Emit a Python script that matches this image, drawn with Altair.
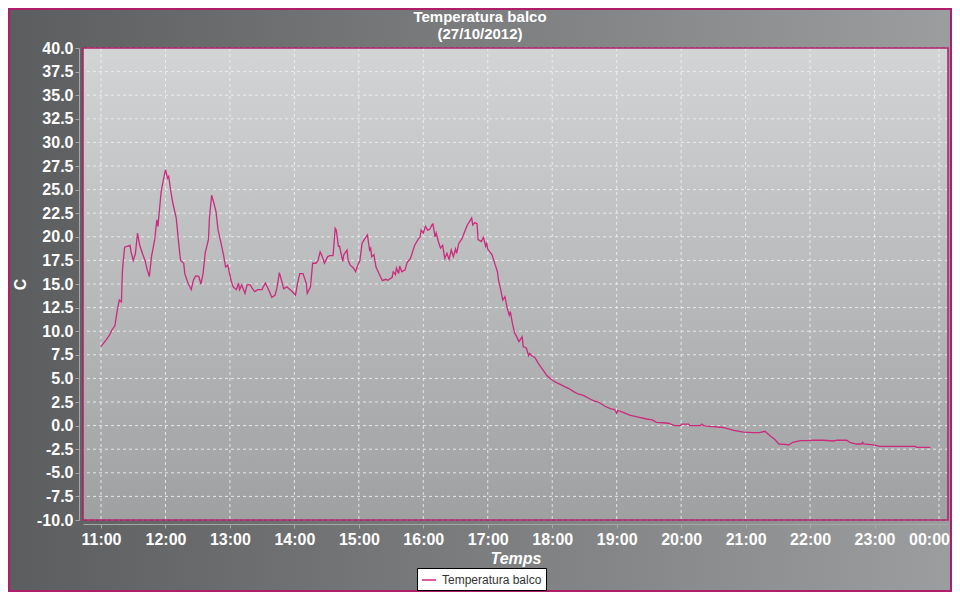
import altair as alt
import pandas as pd

# ---- data ----
times = [
    "11:00", "11:05", "11:08", "11:10", "11:13", "11:15", "11:17", "11:19", "11:20", "11:22",
    "11:25", "11:27", "11:28", "11:30", "11:32", "11:34", "11:36", "11:39", "11:41", "11:43",
    "11:45", "11:47", "11:50", "11:52", "11:53", "11:56", "11:58", "12:00", "12:02", "12:03",
    "12:05", "12:07", "12:10", "12:12", "12:14", "12:17", "12:18", "12:21", "12:24", "12:26",
    "12:28", "12:31", "12:33", "12:35", "12:37", "12:40", "12:41", "12:43", "12:45", "12:47",
    "12:49", "12:51", "12:54", "12:56", "12:58", "13:01", "13:03", "13:06", "13:08", "13:09",
    "13:11", "13:14", "13:16", "13:19", "13:21", "13:23", "13:26", "13:30", "13:31", "13:33",
    "13:36", "13:39", "13:42", "13:44", "13:46", "13:48", "13:50", "13:53", "13:55", "13:58",
    "14:01", "14:03", "14:05", "14:08", "14:11", "14:12", "14:15", "14:17", "14:20", "14:22",
    "14:24", "14:26", "14:28", "14:31", "14:33", "14:36", "14:38", "14:39", "14:41", "14:42",
    "14:45", "14:46", "14:49", "14:50", "14:52", "14:55", "14:57", "14:59", "15:01", "15:03",
    "15:05", "15:08", "15:10", "15:11", "15:12", "15:14", "15:16", "15:18", "15:20", "15:22",
    "15:25", "15:27", "15:31", "15:32", "15:34", "15:35", "15:37", "15:38", "15:40", "15:43",
    "15:45", "15:48", "15:50", "15:52", "15:55", "15:57", "15:58", "16:00", "16:02", "16:04",
    "16:06", "16:08", "16:09", "16:11", "16:12", "16:14", "16:16", "16:18", "16:20", "16:22",
    "16:24", "16:26", "16:28", "16:30", "16:31", "16:33", "16:36", "16:38", "16:39", "16:41",
    "16:43", "16:45", "16:46", "16:48", "16:50", "16:51", "16:54", "16:56", "16:58", "16:59",
    "17:00", "17:04", "17:07", "17:09", "17:10", "17:12", "17:14", "17:16", "17:18", "17:20",
    "17:21", "17:23", "17:25", "17:27", "17:29", "17:32", "17:33", "17:36", "17:38", "17:39",
    "17:41", "17:44", "17:47", "17:52", "17:55", "17:59", "18:03", "18:07", "18:12", "18:15",
    "18:20", "18:24", "18:29", "18:34", "18:38", "18:43", "18:49", "18:54", "18:58", "19:00",
    "19:01", "19:06", "19:12", "19:20", "19:28", "19:33", "19:37", "19:43", "19:48", "19:54",
    "19:59", "20:01", "20:07", "20:08", "20:18", "20:19", "20:21", "20:27", "20:30", "20:39",
    "20:49", "20:58", "21:07", "21:13", "21:18", "21:23", "21:27", "21:31", "21:37", "21:40",
    "21:44", "21:51", "21:57", "22:03", "22:12", "22:22", "22:25", "22:34", "22:37", "22:43",
    "22:48", "22:49", "22:50", "22:59", "23:05", "23:21", "23:38", "23:39", "23:52",
]
temps = [
    8.4, 9.1, 9.6, 10.1, 10.6, 12.1, 13.3, 13.1, 16.5, 18.9,
    19.0, 19.1, 18.4, 17.5, 18.2, 20.4, 19.1, 18.1, 17.5, 16.5,
    15.8, 17.9, 19.7, 21.8, 21.1, 24.8, 26.0, 27.1, 26.2, 26.4,
    24.8, 23.5, 22.0, 19.7, 17.5, 17.2, 16.1, 15.1, 14.4, 15.4,
    15.85, 15.8, 15.0, 16.1, 18.3, 19.7, 22.1, 24.4, 23.6, 22.7,
    20.7, 19.7, 18.1, 16.8, 17.0, 15.4, 14.7, 14.4, 15.1, 14.4,
    14.9, 14.0, 14.9, 14.9, 14.5, 14.2, 14.4, 14.4, 14.7, 15.1,
    14.4, 13.6, 13.8, 14.7, 16.2, 15.4, 14.5, 14.7, 14.5, 14.2,
    13.8, 15.1, 16.1, 16.1, 15.1, 14.0, 14.7, 17.2, 17.2, 17.5,
    18.4, 17.9, 17.2, 17.9, 18.0, 18.0, 20.9, 20.7, 19.0, 19.0,
    17.4, 18.1, 18.6, 17.5, 17.0, 16.7, 16.3, 17.0, 17.5, 19.3,
    19.7, 20.2, 18.6, 18.8, 17.9, 18.1, 16.8, 16.3, 15.8, 15.35,
    15.5, 15.4, 15.7, 16.3, 16.0, 16.7, 16.1, 16.9, 16.3, 16.5,
    17.3, 17.7, 18.4, 19.1, 19.7, 20.0, 20.7, 20.4, 21.1, 20.7,
    20.8, 21.25, 21.35, 20.0, 20.4, 19.5, 18.8, 19.1, 17.7, 18.25,
    17.6, 18.6, 17.9, 18.7, 18.25, 19.3, 19.8, 20.4, 20.7, 21.25,
    21.6, 22.0, 21.25, 21.5, 21.4, 19.7, 19.5, 19.95, 19.0, 19.3,
    18.7, 18.1, 17.0, 16.3, 15.4, 14.4, 13.3, 13.65, 12.5, 11.7,
    12.07, 10.8, 9.8, 9.4, 8.9, 9.4, 8.36, 8.2, 7.4, 7.65,
    7.4, 7.2, 6.6, 5.8, 5.3, 4.9, 4.6, 4.4, 4.1, 3.95,
    3.6, 3.35, 3.2, 2.9, 2.65, 2.5, 2.05, 1.8, 1.7, 1.3,
    1.6, 1.4, 1.1, 0.9, 0.7, 0.6, 0.35, 0.3, 0.25, 0.0,
    0.0, 0.15, 0.15, 0.0, 0.0, 0.15, 0.0, -0.1, -0.1, -0.2,
    -0.5, -0.7, -0.75, -0.75, -0.6, -1.1, -1.45, -1.95, -1.98, -2.05,
    -1.77, -1.6, -1.6, -1.55, -1.55, -1.63, -1.55, -1.55, -1.77, -1.95,
    -1.95, -1.77, -1.95, -2.05, -2.2, -2.2, -2.2, -2.3, -2.3,
]
series_name = "Temperatura balco"
title_lines = ["Temperatura balco", "(27/10/2012)"]
hour_ticks = [
    "2012-10-27T11:00", "2012-10-27T12:00", "2012-10-27T13:00", "2012-10-27T14:00",
    "2012-10-27T15:00", "2012-10-27T16:00", "2012-10-27T17:00", "2012-10-27T18:00",
    "2012-10-27T19:00", "2012-10-27T20:00", "2012-10-27T21:00", "2012-10-27T22:00",
    "2012-10-27T23:00", "2012-10-28T00:00",
]
y_ticks = [-10.0, -7.5, -5.0, -2.5, 0.0, 2.5, 5.0, 7.5, 10.0, 12.5, 15.0, 17.5, 20.0,
           22.5, 25.0, 27.5, 30.0, 32.5, 35.0, 37.5, 40.0]
x_domain = ["2012-10-27T10:43:15", "2012-10-28T00:08:23"]
y_domain = [-10, 40]

df = pd.DataFrame({"time": ["2012-10-27T" + t for t in times], "temp": temps,
                   "series": series_name})
gx = pd.DataFrame({"time": hour_ticks})
gy = pd.DataFrame({"temp": y_ticks})
one = pd.DataFrame({"a": [0]})

W, H = 865, 472
PL, PT, PR, PB = 75, 40, 4, 72

LINE = "#cc2a7c"
BORDER = "#b01e6a"
FONT = "Liberation Sans"

xscale = alt.Scale(domain=x_domain)
yscale = alt.Scale(domain=y_domain)

hour_vals = [alt.DateTime(year=2012, month=10, date=27, hours=h) for h in range(11, 24)] + \
            [alt.DateTime(year=2012, month=10, date=28, hours=0)]

xaxis = alt.Axis(values=hour_vals, format="%H:%M", title="Temps", grid=False,
                 offset=4, zindex=1, domainColor="#a8a8a8", tickColor="#a8a8a8",
                 tickSize=4, labelPadding=3, labelFont=FONT, labelFontSize=16,
                 labelFontWeight="bold", labelColor="white", labelFlush=False,
                 labelOverlap=False, labelOffset=alt.ExprRef("datum.index == 1 ? -10 : 0"),
                 titleFont=FONT, titleFontSize=16,
                 titleFontWeight="bold", titleFontStyle="italic", titleColor="white",
                 titleY=34, titleBaseline="middle")
yaxis = alt.Axis(values=y_ticks, title="C", grid=False, offset=4, zindex=1,
                 domainColor="#a8a8a8", tickColor="#a8a8a8", tickSize=4, labelPadding=2,
                 labelFont=FONT, labelFontSize=16, labelFontWeight="bold",
                 labelColor="white", labelOverlap=False,
                 labelExpr="(datum.value < 0 ? '-' : '') + format(abs(datum.value), '.1f')",
                 titleFont=FONT, titleFontSize=16, titleFontWeight="bold",
                 titleColor="white", titleX=-59, titleY=H / 2, titleAngle=270,
                 titleAlign="center", titleBaseline="middle")

X = alt.X("time:T", scale=xscale, axis=xaxis)
Y = alt.Y("temp:Q", scale=yscale, axis=yaxis)

outer_grad = alt.Gradient(gradient="linear",
                          stops=[alt.GradientStop(color="#5c5d5e", offset=0),
                                 alt.GradientStop(color="#9c9d9e", offset=1)],
                          x1=0, x2=1, y1=0, y2=0)
plot_grad = alt.Gradient(gradient="linear",
                         stops=[alt.GradientStop(color="#d3d4d6", offset=0),
                                alt.GradientStop(color="#9ea0a2", offset=1)],
                         x1=0, x2=0, y1=0, y2=1)

outer = alt.Chart(one).mark_rect(clip=False, fill=outer_grad, stroke=BORDER,
                                 strokeWidth=2).encode(
    x=alt.value(-PL + 1), x2=alt.value(W + PR - 1),
    y=alt.value(-PT + 1), y2=alt.value(H + PB - 1))

plotbg = alt.Chart(one).mark_rect(fill=plot_grad).encode(
    x=alt.value(0), x2=alt.value(W), y=alt.value(0), y2=alt.value(H))

grid_x = alt.Chart(gx).mark_rule(color="#f2f2f2", strokeDash=[3, 3], strokeWidth=1,
                                 opacity=0.85).encode(x=X)
grid_y = alt.Chart(gy).mark_rule(color="#f2f2f2", strokeDash=[3, 3], strokeWidth=1,
                                 opacity=0.85).encode(y=Y)

frame = alt.Chart(one).mark_rect(filled=False, stroke=BORDER, strokeWidth=1.5).encode(
    x=alt.value(0), x2=alt.value(W), y=alt.value(0), y2=alt.value(H))

line = alt.Chart(df).mark_line(strokeWidth=1.3, clip=True).encode(
    x=X, y=Y,
    color=alt.Color("series:N", scale=alt.Scale(domain=[series_name], range=[LINE]),
                    legend=alt.Legend(title=None, orient="none", legendX=334, legendY=520,
                                      fillColor="white", strokeColor="black",
                                      padding=4, symbolType="stroke", symbolSize=196,
                                      symbolStrokeWidth=1.5, labelOffset=5,
                                      labelFont=FONT, labelFontSize=12,
                                      labelColor="#333333", cornerRadius=0)))

title1 = alt.Chart(one).mark_text(text=title_lines[0], clip=False, font=FONT, fontSize=15,
                                  fontWeight="bold", color="white", align="center",
                                  baseline="middle").encode(
    x=alt.value(397), y=alt.value(-31))
title2 = alt.Chart(one).mark_text(text=title_lines[1], clip=False, font=FONT, fontSize=15,
                                  fontWeight="bold", color="white", align="center",
                                  baseline="middle").encode(
    x=alt.value(397), y=alt.value(-14))

chart = alt.layer(outer, plotbg, grid_x, grid_y, frame, line, title1, title2).properties(
    width=W, height=H,
    padding={"left": PL, "top": PT, "right": PR, "bottom": PB},
    autosize=alt.AutoSizeParams(type="none"),
).configure(background="#7a7b7c").configure_view(stroke="transparent")

chart.save("out.html", embed_options={"renderer": "svg", "actions": False})
